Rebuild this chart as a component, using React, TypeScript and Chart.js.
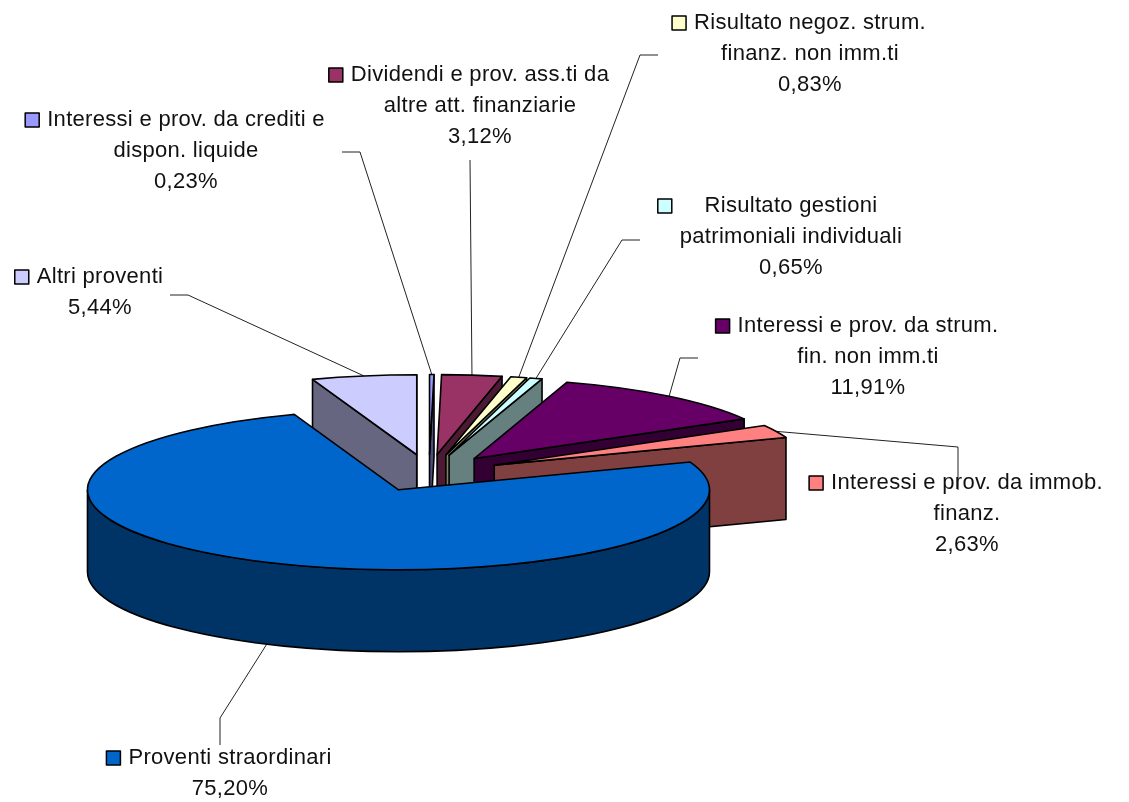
import React, { useEffect, useRef } from "react";
import { Chart, registerables } from "chart.js";

Chart.register(...registerables);

const categories = [
  "Interessi e prov. da crediti e dispon. liquide",
  "Dividendi e prov. ass.ti da altre att. finanziarie",
  "Risultato negoz. strum. finanz. non imm.ti",
  "Risultato gestioni patrimoniali individuali",
  "Interessi e prov. da strum. fin. non imm.ti",
  "Interessi e prov. da immob. finanz.",
  "Proventi straordinari",
  "Altri proventi",
];
const shares = [0.23, 3.12, 0.83, 0.65, 11.91, 2.63, 75.2, 5.44];
const shareLabels = ["0,23%", "3,12%", "0,83%", "0,65%", "11,91%", "2,63%", "75,20%", "5,44%"];
const labelLines = [
  ["Interessi e prov. da crediti e", "dispon. liquide"],
  ["Dividendi e prov. ass.ti da", "altre att. finanziarie"],
  ["Risultato negoz. strum.", "finanz. non imm.ti"],
  ["Risultato gestioni", "patrimoniali individuali"],
  ["Interessi e prov. da strum.", "fin. non imm.ti"],
  ["Interessi e prov. da immob.", "finanz."],
  ["Proventi straordinari"],
  ["Altri proventi"],
];
const faceColors = ["#9999FF", "#993366", "#FFFFCC", "#CCFFFF", "#660066", "#FF8080", "#0066CC", "#CCCCFF"];
const wallColors = ["#4D4D80", "#4D1A33", "#808066", "#668080", "#330033", "#804040", "#003366", "#666680"];

// Layout of the text blocks and leader elbows (centre x, first line middle y, elbow polyline)
const labelCenters = [
  [186, 120], [480, 75], [810, 23], [791, 206], [868, 326], [967, 483], [230, 758], [100, 277],
];
const leaderElbows = [
  [[342, 152], [360, 152]],
  [[470, 160], [470, 160]],
  [[658, 55], [640, 55]],
  [[640, 240], [622, 240]],
  [[698, 358], [680, 358]],
  [[958, 490], [958, 447]],
  [[220, 745], [220, 718]],
  [[170, 295], [188, 295]],
];
const paintOrder = [7, 0, 1, 2, 3, 4, 5, 6];
const SQUASH = 80 / 311;
const DEPTH = 82;
const FONT = '22px "Liberation Sans"';
const LINE = 31;

const pie3d = {
  id: "pie3d",
  beforeDatasetsDraw(chart: any) {
    const { ctx } = chart;
    const arcs = chart.getDatasetMeta(0).data;
    const geo = (a: any) => {
      const mid = (a.startAngle + a.endAngle) / 2;
      const off = a.options.offset;
      return {
        cx: a.x + Math.cos(mid) * off,
        cy: a.y + Math.sin(mid) * off * SQUASH,
        rx: a.outerRadius,
        ry: a.outerRadius * SQUASH,
        mid,
      };
    };
    ctx.save();
    ctx.lineJoin = "round";
    ctx.lineWidth = 1.6;
    ctx.strokeStyle = "#000";

    // leaders sit behind the pie
    arcs.forEach((a: any, i: number) => {
      const g = geo(a);
      const sy = Math.sin(g.mid);
      const px = g.cx + Math.cos(g.mid) * g.rx;
      const py = g.cy + sy * g.ry + (sy > 0 ? DEPTH : 0);
      ctx.save();
      ctx.lineWidth = 1;
      ctx.strokeStyle = "#222";
      ctx.beginPath();
      const pts = leaderElbows[i];
      ctx.moveTo(pts[0][0], pts[0][1]);
      ctx.lineTo(pts[1][0], pts[1][1]);
      ctx.lineTo(px, py);
      ctx.stroke();
      ctx.restore();
    });

    paintOrder.forEach((i) => {
      const a = arcs[i];
      const g = geo(a);
      const wall = (ang: number) => {
        const x = g.cx + Math.cos(ang) * g.rx;
        const y = g.cy + Math.sin(ang) * g.ry;
        ctx.beginPath();
        ctx.moveTo(g.cx, g.cy);
        ctx.lineTo(x, y);
        ctx.lineTo(x, y + DEPTH);
        ctx.lineTo(g.cx, g.cy + DEPTH);
        ctx.closePath();
        ctx.fillStyle = wallColors[i];
        ctx.fill();
        ctx.stroke();
      };
      // clock angle = canvas angle + 90deg; a radial wall faces the viewer by its side of the pie
      if (Math.cos(a.startAngle) < 0) wall(a.startAngle);
      if (Math.cos(a.endAngle) > 0) wall(a.endAngle);
      const from = Math.max(a.startAngle, 0);
      const to = Math.min(a.endAngle, Math.PI);
      if (to > from) {
        ctx.beginPath();
        ctx.ellipse(g.cx, g.cy, g.rx, g.ry, 0, from, to);
        ctx.ellipse(g.cx, g.cy + DEPTH, g.rx, g.ry, 0, to, from, true);
        ctx.closePath();
        ctx.fillStyle = wallColors[i];
        ctx.fill();
        ctx.stroke();
      }
      ctx.beginPath();
      ctx.moveTo(g.cx, g.cy);
      ctx.ellipse(g.cx, g.cy, g.rx, g.ry, 0, a.startAngle, a.endAngle);
      ctx.closePath();
      ctx.fillStyle = a.options.backgroundColor;
      ctx.fill();
      ctx.stroke();
    });

    // labels with their colour keys
    ctx.font = FONT;
    ctx.textBaseline = "middle";
    ctx.textAlign = "center";
    (ctx as any).letterSpacing = "0.3px";
    arcs.forEach((_: any, i: number) => {
      const [cx, y0] = labelCenters[i];
      const lines = [...labelLines[i], shareLabels[i]];
      const w = Math.max(...lines.map((l) => ctx.measureText(l).width));
      ctx.fillStyle = "#111";
      lines.forEach((l, k) => ctx.fillText(l, cx, y0 + k * LINE));
      ctx.fillStyle = faceColors[i];
      ctx.strokeStyle = "#000";
      ctx.lineWidth = 1.5;
      const kx = cx - w / 2 - 22;
      ctx.fillRect(kx, y0 - 7, 14, 14);
      ctx.strokeRect(kx, y0 - 7, 14, 14);
    });
    ctx.restore();
    return false;
  },
};

export default function App() {
  const ref = useRef<HTMLCanvasElement>(null);
  useEffect(() => {
    const chart = new Chart(ref.current as HTMLCanvasElement, {
      type: "pie",
      data: {
        labels: categories,
        datasets: [
          {
            data: shares,
            backgroundColor: faceColors,
            borderColor: "#000",
            borderWidth: 1,
            offset: 72,
          },
        ],
      },
      options: {
        responsive: false,
        animation: false,
        events: [],
        radius: 311,
        layout: { padding: { left: 0, right: 271, top: 144, bottom: 0 } },
        plugins: { legend: { display: false }, tooltip: { enabled: false } },
      } as any,
      plugins: [pie3d],
    });
    return () => chart.destroy();
  }, []);
  return (
    <canvas
      ref={ref}
      width={1129}
      height={802}
      style={{ position: "absolute", left: 0, top: 0, display: "block" }}
    />
  );
}
